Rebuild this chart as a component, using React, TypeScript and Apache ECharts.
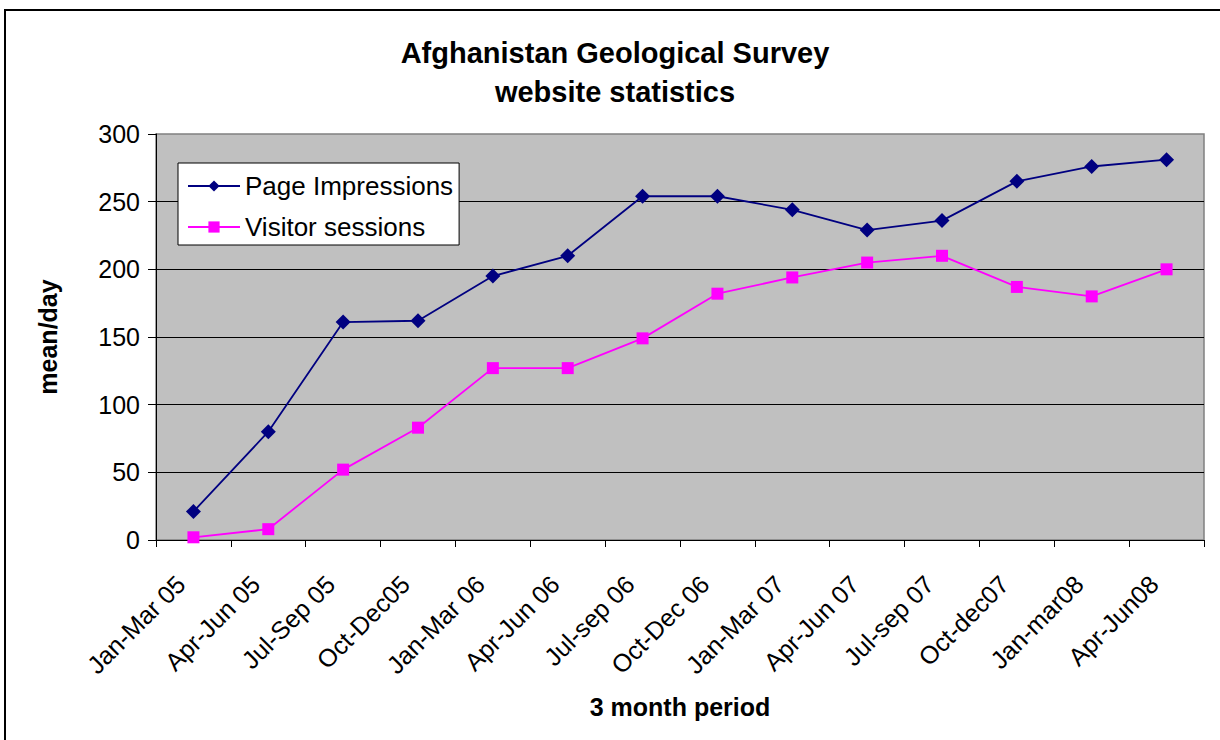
import React, { useEffect, useRef } from "react";
import * as echarts from "echarts";

const categories = [
  "Jan-Mar 05", "Apr-Jun 05", "Jul-Sep 05", "Oct-Dec05", "Jan-Mar 06", "Apr-Jun 06",
  "Jul-sep 06", "Oct-Dec 06", "Jan-Mar 07", "Apr-Jun 07", "Jul-sep 07", "Oct-dec07",
  "Jan-mar08", "Apr-Jun08",
];
const pageImpressions = [21, 80, 161, 162, 195, 210, 254, 254, 244, 229, 236, 265, 276, 281];
const visitorSessions = [2, 8, 52, 83, 127, 127, 149, 182, 194, 205, 210, 187, 180, 200];

const FONT = "'Liberation Sans', Arial, sans-serif";

export default function App() {
  const ref = useRef<HTMLDivElement>(null);
  useEffect(() => {
    if (!ref.current) return;
    const chart = echarts.init(ref.current, undefined, { renderer: "svg" });
    chart.setOption({
      animation: false,
      backgroundColor: "#ffffff",
      textStyle: { fontFamily: FONT },
      title: {
        text: "Afghanistan Geological Survey\nwebsite statistics",
        left: 615,
        top: 33,
        padding: 0,
        textAlign: "center",
        textStyle: {
          fontFamily: FONT,
          fontSize: 29,
          fontWeight: "bold",
          color: "#000",
          lineHeight: 39,
        },
      },
      graphic: [
        {
          type: "rect",
          shape: { x: 5, y: 10, width: 1400, height: 900 },
          style: { fill: "none", stroke: "#000", lineWidth: 2 },
          silent: true,
          z: 100,
        },
      ],
      legend: {
        orient: "vertical",
        left: 178,
        top: 163,
        padding: [9, 6, 4, 9],
        itemGap: 13,
        itemWidth: 52,
        itemHeight: 14,
        backgroundColor: "#ffffff",
        borderColor: "#000",
        borderWidth: 1,
        textStyle: { fontFamily: FONT, fontSize: 26, color: "#000", lineHeight: 28 },
        data: ["Page Impressions", "Visitor sessions"],
      },
      grid: {
        left: 156,
        top: 134,
        right: 16,
        bottom: 200,
        show: true,
        backgroundColor: "#C0C0C0",
        borderColor: "#808080",
        borderWidth: 1.5,
        containLabel: false,
      },
      xAxis: {
        type: "category",
        data: categories,
        boundaryGap: true,
        name: "3 month period",
        nameLocation: "middle",
        nameGap: 154,
        nameTextStyle: { fontFamily: FONT, fontSize: 25, fontWeight: "bold", color: "#000" },
        axisLine: { show: true, lineStyle: { color: "#000", width: 1 } },
        axisTick: { show: true, length: 7, lineStyle: { color: "#000" } },
        axisLabel: {
          rotate: 45,
          interval: 0,
          fontSize: 25,
          color: "#000",
          fontFamily: FONT,
          margin: 27,
          padding: [0, 18, 0, 0],
        },
        splitLine: { show: false },
      },
      yAxis: {
        type: "value",
        min: 0,
        max: 300,
        interval: 50,
        name: "mean/day",
        nameLocation: "middle",
        nameGap: 96,
        nameRotate: 90,
        nameTextStyle: { fontFamily: FONT, fontSize: 25, fontWeight: "bold", color: "#000" },
        axisLine: { show: true, lineStyle: { color: "#000", width: 1 } },
        axisTick: { show: true, length: 8, lineStyle: { color: "#000" } },
        axisLabel: { fontSize: 25, color: "#000", fontFamily: FONT, margin: 16 },
        splitLine: { show: true, showMaxLine: false, lineStyle: { color: "#000", width: 1 } },
      },
      series: [
        {
          name: "Page Impressions",
          type: "line",
          data: pageImpressions,
          symbol: "diamond",
          symbolSize: 15,
          lineStyle: { color: "#000080", width: 1.8 },
          itemStyle: { color: "#000080" },
        },
        {
          name: "Visitor sessions",
          type: "line",
          data: visitorSessions,
          symbol: "rect",
          symbolSize: 12,
          lineStyle: { color: "#FF00FF", width: 1.8 },
          itemStyle: { color: "#FF00FF" },
        },
      ],
    });
    return () => chart.dispose();
  }, []);
  return (
    <div
      ref={ref}
      style={{ position: "absolute", left: 0, top: 0, width: 1220, height: 740 }}
    />
  );
}
